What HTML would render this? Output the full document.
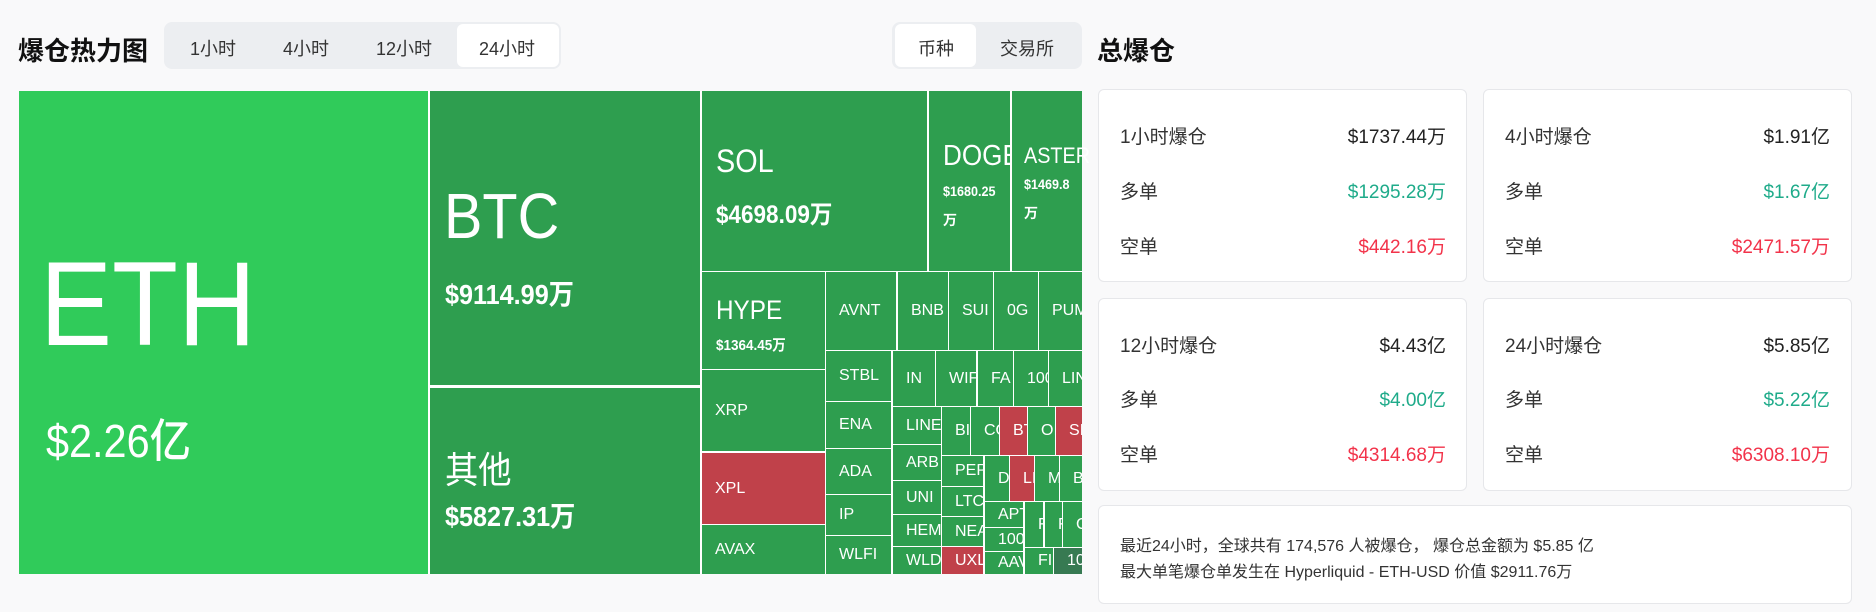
<!DOCTYPE html>
<html><head><meta charset="utf-8"><style>
*{margin:0;padding:0;box-sizing:border-box}
body{width:1876px;height:612px;background:#f9f9fa;font-family:"Liberation Sans","Noto Sans CJK SC",sans-serif;position:relative;overflow:hidden;color:#222}
.a{position:absolute;white-space:nowrap}
.tm{position:absolute;left:19px;top:91px;width:1063px;height:483px;background:#fff}
.b{position:absolute;background:#2e9e4f;color:#fff;overflow:hidden;display:flex;align-items:center;padding-left:13px;font-size:16px;font-weight:500;white-space:nowrap}
.r{background:#c0414a}
.t{position:absolute;color:#fff;white-space:nowrap;transform-origin:0 0}
.c{transform:scaleX(0.9)}
.card{position:absolute;background:#fff;border:1px solid #e6e7ea;border-radius:6px}
.lb{position:absolute;font-size:19px;color:#333}
.v{position:absolute;font-size:19px;text-align:right;color:#222}
.g{color:#1fab8a}.rd{color:#f2334a}
</style></head><body>
<div class="a" style="left:18px;top:31px;font-size:26px;font-weight:bold;color:#111">爆仓热力图</div>
<div class="a" style="left:164px;top:22px;width:397px;height:47px;background:#eceef1;border-radius:8px"></div>
<div class="a" style="left:457px;top:24px;width:102px;height:43px;background:#fff;border-radius:6px"></div>
<div class="a" style="left:190px;top:35px;font-size:18px;color:#333">1小时</div>
<div class="a" style="left:283px;top:35px;font-size:18px;color:#333">4小时</div>
<div class="a" style="left:376px;top:35px;font-size:18px;color:#333">12小时</div>
<div class="a" style="left:479px;top:35px;font-size:18px;color:#333">24小时</div>
<div class="a" style="left:892px;top:22px;width:190px;height:47px;background:#eceef1;border-radius:8px"></div>
<div class="a" style="left:895px;top:24px;width:81px;height:43px;background:#fff;border-radius:6px"></div>
<div class="a" style="left:918px;top:35px;font-size:18px;color:#333">币种</div>
<div class="a" style="left:1000px;top:35px;font-size:18px;color:#333">交易所</div>
<div class="a" style="left:1097px;top:31px;font-size:26px;font-weight:bold;color:#111">总爆仓</div>

<div class="tm"></div>
<div class="b" style="left:19px;top:91px;width:409px;height:483px;background:#30cb5a"></div>
<div class="t c" style="left:40px;top:244px;font-size:120px;line-height:1">ETH</div>
<div class="t c" style="left:46px;top:405px;font-size:46px;font-weight:500">$2.26亿</div>
<div class="b" style="left:430px;top:91px;width:270px;height:294px"></div>
<div class="t c" style="left:444px;top:184px;font-size:64px;line-height:1">BTC</div>
<div class="t c" style="left:445px;top:273px;font-size:28px;font-weight:600">$9114.99万</div>
<div class="b" style="left:430px;top:388px;width:270px;height:186px"></div>
<div class="t c" style="left:445px;top:440px;font-size:37px">其他</div>
<div class="t c" style="left:445px;top:495px;font-size:28px;font-weight:600">$5827.31万</div>
<div class="b" style="left:702px;top:91px;width:225px;height:180px"></div>
<div class="t c" style="left:716px;top:143px;font-size:32px">SOL</div>
<div class="t c" style="left:716px;top:195px;font-size:25px;font-weight:600">$4698.09万</div>
<div class="b" style="left:929px;top:91px;width:81px;height:180px"></div>
<div class="t c" style="left:943px;top:140px;font-size:29px">DOGE</div>
<div class="t c" style="left:943px;top:183px;font-size:14px;font-weight:600">$1680.25</div>
<div class="t" style="left:943px;top:210px;font-size:14px;font-weight:600">万</div>
<div class="b" style="left:1012px;top:91px;width:70px;height:180px"></div>
<div class="t c" style="left:1024px;top:143px;font-size:22px">ASTER</div>
<div class="t c" style="left:1024px;top:176px;font-size:14px;font-weight:600">$1469.8</div>
<div class="t" style="left:1024px;top:203px;font-size:14px;font-weight:600">万</div>
<div class="b" style="left:702px;top:272px;width:123px;height:97px"></div>
<div class="t c" style="left:716px;top:295px;font-size:27px">HYPE</div>
<div class="t c" style="left:716px;top:334px;font-size:15px;font-weight:600">$1364.45万</div>
<div class="b" style="left:702px;top:370px;width:123px;height:81px">XRP</div>
<div class="b r" style="left:702px;top:453px;width:123px;height:71px">XPL</div>
<div class="b" style="left:702px;top:525px;width:123px;height:49px">AVAX</div>
<div class="b" style="left:826px;top:272px;width:70px;height:78px">AVNT</div>
<div class="b" style="left:898px;top:272px;width:50px;height:78px">BNB</div>
<div class="b" style="left:949px;top:272px;width:44px;height:78px">SUI</div>
<div class="b" style="left:994px;top:272px;width:44px;height:78px">0G</div>
<div class="b" style="left:1039px;top:272px;width:43px;height:78px">PUMP</div>
<div class="b" style="left:826px;top:351px;width:65px;height:50px">STBL</div>
<div class="b" style="left:826px;top:402px;width:65px;height:46px">ENA</div>
<div class="b" style="left:826px;top:449px;width:65px;height:45px">ADA</div>
<div class="b" style="left:826px;top:495px;width:65px;height:40px">IP</div>
<div class="b" style="left:826px;top:536px;width:65px;height:38px">WLFI</div>
<div class="b" style="left:893px;top:351px;width:42px;height:55px">IN</div>
<div class="b" style="left:936px;top:351px;width:40px;height:55px">WIF</div>
<div class="b" style="left:978px;top:351px;width:35px;height:55px">FA</div>
<div class="b" style="left:1014px;top:351px;width:34px;height:55px">100</div>
<div class="b" style="left:1049px;top:351px;width:33px;height:55px">LIN</div>
<div class="b" style="left:893px;top:407px;width:48px;height:37px">LINE</div>
<div class="b" style="left:893px;top:445px;width:48px;height:35px">ARB</div>
<div class="b" style="left:893px;top:481px;width:48px;height:33px">UNI</div>
<div class="b" style="left:893px;top:515px;width:48px;height:31px">HEM</div>
<div class="b" style="left:893px;top:547px;width:48px;height:27px">WLD</div>
<div class="b" style="left:942px;top:407px;width:28px;height:48px">BI</div>
<div class="b" style="left:971px;top:407px;width:28px;height:48px">CO</div>
<div class="b r" style="left:1000px;top:407px;width:27px;height:48px">BT</div>
<div class="b" style="left:1028px;top:407px;width:27px;height:48px">OI</div>
<div class="b r" style="left:1056px;top:407px;width:26px;height:48px">SI</div>
<div class="b" style="left:942px;top:456px;width:41px;height:30px">PEP</div>
<div class="b" style="left:942px;top:487px;width:41px;height:29px">LTC</div>
<div class="b" style="left:942px;top:517px;width:41px;height:29px">NEA</div>
<div class="b r" style="left:942px;top:547px;width:41px;height:27px">UXL</div>
<div class="b" style="left:985px;top:456px;width:24px;height:45px">D</div>
<div class="b r" style="left:1010px;top:456px;width:24px;height:45px">LI</div>
<div class="b" style="left:1035px;top:456px;width:24px;height:45px">M</div>
<div class="b" style="left:1060px;top:456px;width:22px;height:45px">B</div>
<div class="b" style="left:985px;top:502px;width:38px;height:25px">APT</div>
<div class="b" style="left:985px;top:528px;width:38px;height:23px">100</div>
<div class="b" style="left:985px;top:552px;width:38px;height:22px">AAV</div>
<div class="b" style="left:1025px;top:502px;width:18px;height:45px">F</div>
<div class="b" style="left:1045px;top:502px;width:17px;height:45px">F</div>
<div class="b" style="left:1063px;top:502px;width:19px;height:45px">C</div>
<div class="b" style="left:1025px;top:548px;width:28px;height:26px">FI</div>
<div class="b" style="left:1054px;top:548px;width:28px;height:26px;background:#377a52">10</div>

<div class="card" style="left:1098px;top:89px;width:369px;height:193px"></div>
<div class="card" style="left:1483px;top:89px;width:369px;height:193px"></div>
<div class="card" style="left:1098px;top:298px;width:369px;height:193px"></div>
<div class="card" style="left:1483px;top:298px;width:369px;height:193px"></div>
<div class="card" style="left:1098px;top:505px;width:754px;height:99px"></div>

<div class="lb" style="left:1120px;top:122px">1小时爆仓</div><div class="v" style="right:430px;top:122px">$1737.44万</div>
<div class="lb" style="left:1120px;top:177px">多单</div><div class="v g" style="right:430px;top:177px">$1295.28万</div>
<div class="lb" style="left:1120px;top:232px">空单</div><div class="v rd" style="right:430px;top:232px">$442.16万</div>
<div class="lb" style="left:1505px;top:122px">4小时爆仓</div><div class="v" style="right:46px;top:122px">$1.91亿</div>
<div class="lb" style="left:1505px;top:177px">多单</div><div class="v g" style="right:46px;top:177px">$1.67亿</div>
<div class="lb" style="left:1505px;top:232px">空单</div><div class="v rd" style="right:46px;top:232px">$2471.57万</div>
<div class="lb" style="left:1120px;top:331px">12小时爆仓</div><div class="v" style="right:430px;top:331px">$4.43亿</div>
<div class="lb" style="left:1120px;top:385px">多单</div><div class="v g" style="right:430px;top:385px">$4.00亿</div>
<div class="lb" style="left:1120px;top:440px">空单</div><div class="v rd" style="right:430px;top:440px">$4314.68万</div>
<div class="lb" style="left:1505px;top:331px">24小时爆仓</div><div class="v" style="right:46px;top:331px">$5.85亿</div>
<div class="lb" style="left:1505px;top:385px">多单</div><div class="v g" style="right:46px;top:385px">$5.22亿</div>
<div class="lb" style="left:1505px;top:440px">空单</div><div class="v rd" style="right:46px;top:440px">$6308.10万</div>
<div class="a" style="left:1120px;top:532px;font-size:16px;color:#333">最近24小时，全球共有 174,576 人被爆仓， 爆仓总金额为 $5.85 亿</div>
<div class="a" style="left:1120px;top:558px;font-size:16px;color:#333">最大单笔爆仓单发生在 Hyperliquid - ETH-USD 价值 $2911.76万</div>
</body></html>
